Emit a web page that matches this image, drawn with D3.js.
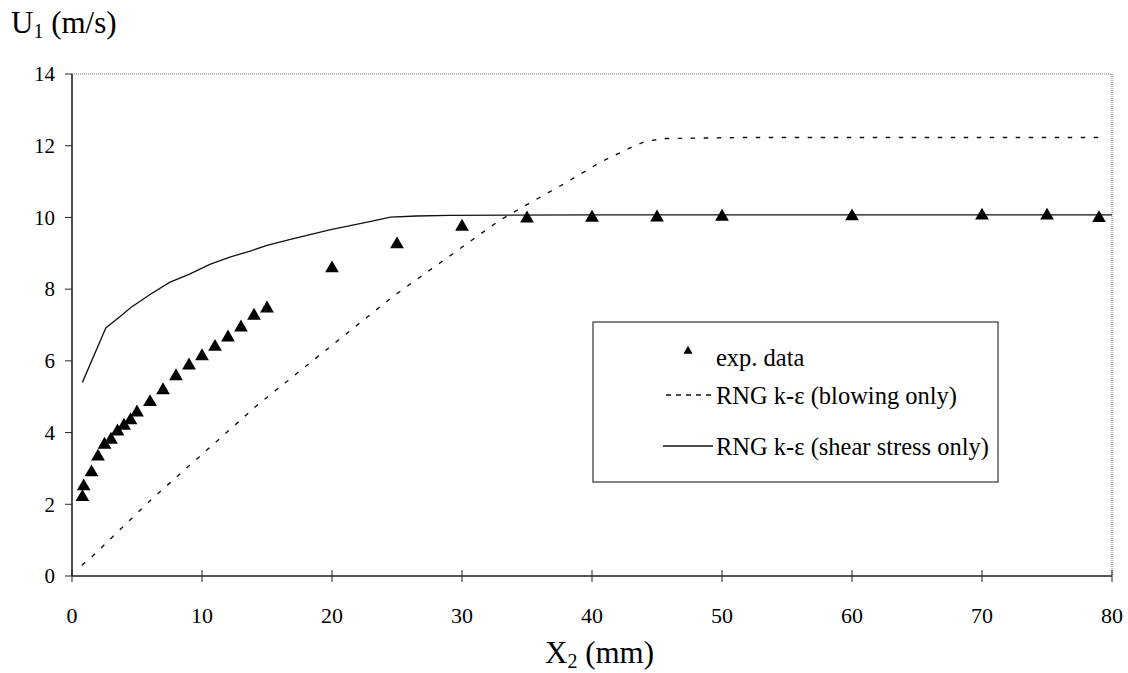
<!DOCTYPE html>
<html lang="en">
<head>
  <meta charset="UTF-8" />
  <title>U1 vs X2</title>
  <style>
    body { margin: 0; background: #fff; }
    text { font-family: "Liberation Serif", "Times New Roman", serif; fill: #000; }
    .blow-line { fill: none; stroke: #111; stroke-width: 1.4px; stroke-dasharray: 4.5, 8.5; }
    .shear-line { fill: none; stroke: #111; stroke-width: 1.3px; }
    .frame { fill: none; stroke: #777; stroke-width: 1px; stroke-dasharray: 1, 1; }
    .axis-line { stroke: #222; stroke-width: 1.6px; }
    .tick-line { stroke: #222; stroke-width: 1px; }
  </style>
</head>
<body>
  <script src="https://cdn.jsdelivr.net/npm/d3@7"></script>
  <script>
    var w = 1128;
    var h = 673;
    var margin = { top: 74, right: 16, bottom: 97, left: 72 };

    // experimental points
    var expX = [0.8, 0.9, 1.5, 2, 2.5, 3, 3.5, 4, 4.5, 5, 6, 7, 8, 9, 10, 11, 12, 13, 14, 15, 20, 25, 30, 35, 40, 45, 50, 60, 70, 75, 79];
    var expY = [2.2, 2.5, 2.89, 3.33, 3.66, 3.8, 4.03, 4.19, 4.34, 4.56, 4.85, 5.18, 5.57, 5.87, 6.13, 6.39, 6.65, 6.93, 7.26, 7.46, 8.58, 9.25, 9.74, 9.97, 9.99, 10.0, 10.02, 10.03, 10.05, 10.05, 9.98];

    // RNG k-e (blowing only)
    var blowX = [0.75, 1.4, 6, 14.3, 24.7, 32.9, 35.5, 38, 40.6, 43.2, 44.2, 45.7, 52, 79];
    var blowY = [0.3, 0.49, 2.1, 4.78, 7.8, 9.92, 10.46, 10.97, 11.53, 11.99, 12.13, 12.2, 12.23, 12.23];

    // RNG k-e (shear stress only)
    var shearX = [0.8, 2.6, 3.7, 4.5, 6, 7.5, 9, 10.6, 12.2, 13.7, 15, 16.8, 19.9, 22.9, 24.5, 26.5, 29, 40, 60, 80];
    var shearY = [5.4, 6.92, 7.24, 7.48, 7.85, 8.19, 8.41, 8.69, 8.9, 9.06, 9.22, 9.39, 9.66, 9.88, 10.01, 10.04, 10.06, 10.07, 10.07, 10.07];

    var xTicks = [0, 10, 20, 30, 40, 50, 60, 70, 80];
    var yTicks = [0, 2, 4, 6, 8, 10, 12, 14];

    var legendLabels = ["exp. data", "RNG k-\u03b5 (blowing only)", "RNG k-\u03b5 (shear stress only)"];

    var pw = w - margin.left - margin.right;
    var ph = h - margin.top - margin.bottom;

    var svg = d3.select("body").append("svg")
      .attr("width", w)
      .attr("height", h);

    var g = svg.append("g")
      .attr("transform", "translate(" + margin.left + "," + margin.top + ")");

    var xScale = d3.scaleLinear().domain([0, 80]).range([0, pw]);
    var yScale = d3.scaleLinear().domain([0, 14]).range([ph, 0]);

    // frame top + right (dotted grey)
    g.append("path")
      .attr("class", "frame")
      .attr("d", "M0,0H" + pw + "V" + ph);

    // axes
    g.append("line").attr("class", "axis-line")
      .attr("x1", 0).attr("x2", 0).attr("y1", 0).attr("y2", ph);
    g.append("line").attr("class", "axis-line")
      .attr("x1", 0).attr("x2", pw).attr("y1", ph).attr("y2", ph);

    g.selectAll(".ytick")
      .data(yTicks)
      .enter()
      .append("line")
      .attr("class", "tick-line")
      .attr("x1", -7).attr("x2", 0)
      .attr("y1", function(d) { return yScale(d); })
      .attr("y2", function(d) { return yScale(d); });

    g.selectAll(".ylabel")
      .data(yTicks)
      .enter()
      .append("text")
      .attr("x", -17)
      .attr("y", function(d) { return yScale(d); })
      .attr("dy", "0.35em")
      .attr("text-anchor", "end")
      .style("font-size", "21px")
      .text(function(d) { return d; });

    g.selectAll(".xtick")
      .data(xTicks)
      .enter()
      .append("line")
      .attr("class", "tick-line")
      .attr("x1", function(d) { return xScale(d); })
      .attr("x2", function(d) { return xScale(d); })
      .attr("y1", ph - 6).attr("y2", ph + 6);

    g.selectAll(".xlabel")
      .data(xTicks)
      .enter()
      .append("text")
      .attr("x", function(d) { return xScale(d); })
      .attr("y", ph + 47)
      .attr("text-anchor", "middle")
      .style("font-size", "22px")
      .text(function(d) { return d; });

    // lines
    var line = d3.line()
      .x(function(d) { return xScale(d[0]); })
      .y(function(d) { return yScale(d[1]); });

    g.append("path")
      .datum(d3.zip(blowX, blowY))
      .attr("class", "blow-line")
      .attr("d", line);

    g.append("path")
      .datum(d3.zip(shearX, shearY))
      .attr("class", "shear-line")
      .attr("d", line);

    // triangles
    var tri = d3.symbol().type(d3.symbolTriangle).size(82);
    g.selectAll(".pt")
      .data(d3.zip(expX, expY))
      .enter()
      .append("path")
      .attr("d", tri)
      .attr("fill", "#000")
      .attr("transform", function(d) {
        return "translate(" + xScale(d[0]) + "," + yScale(d[1]) + ")";
      });

    // axis titles
    var yt = svg.append("text")
      .attr("x", 11)
      .attr("y", 33)
      .style("font-size", "31px");
    yt.append("tspan").text("U");
    yt.append("tspan").attr("dy", 5).style("font-size", "20px").text("1");
    yt.append("tspan").attr("dy", -5).text(" (m/s)");

    var xt = svg.append("text")
      .attr("x", 545)
      .attr("y", 663)
      .style("font-size", "31px");
    xt.append("tspan").text("X");
    xt.append("tspan").attr("dy", 5).style("font-size", "20px").text("2");
    xt.append("tspan").attr("dy", -5).text(" (mm)");

    // legend
    var lg = svg.append("g").attr("transform", "translate(593,322)");
    lg.append("rect")
      .attr("width", 405).attr("height", 160)
      .attr("fill", "#fff")
      .attr("stroke", "#333").attr("stroke-width", 1.2);

    lg.append("path")
      .attr("d", d3.symbol().type(d3.symbolTriangle).size(36))
      .attr("fill", "#000")
      .attr("transform", "translate(95,29)");
    lg.append("line").attr("class", "blow-line")
      .style("stroke-dasharray", "5,5")
      .attr("x1", 73).attr("x2", 120).attr("y1", 73).attr("y2", 73);
    lg.append("line").attr("class", "shear-line")
      .attr("x1", 70).attr("x2", 120).attr("y1", 124).attr("y2", 124);

    lg.selectAll(".lt")
      .data(legendLabels)
      .enter()
      .append("text")
      .attr("x", 123)
      .attr("y", function(d, i) { return [44, 82, 133][i]; })
      .style("font-size", "24.5px")
      .text(function(d) { return d; });
  </script>
</body>
</html>
